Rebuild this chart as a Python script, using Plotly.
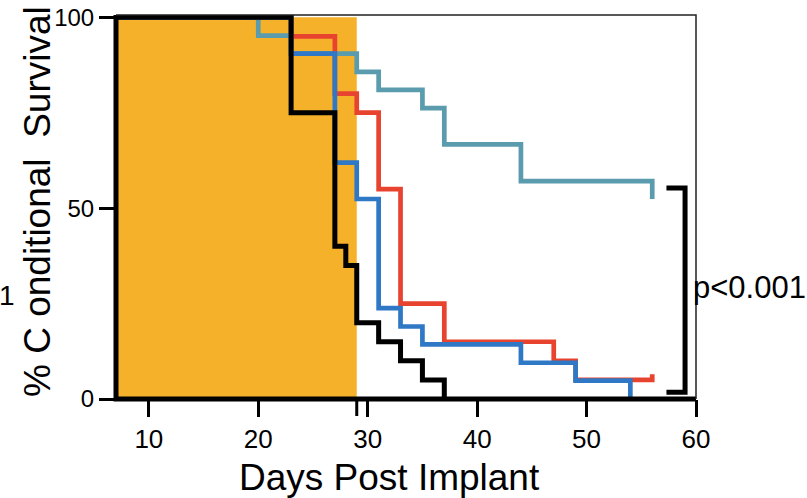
import plotly.graph_objects as go

# ---- data ----
teal_days = [0, 20, 23, 29, 31, 35, 37, 44, 56]
teal_surv = [100, 95.2, 90.5, 85.7, 81.0, 76.2, 66.7, 57.1, 52.4]

red_days = [0, 23, 27, 29, 31, 33, 37, 47, 49, 56, 56]
red_surv = [100, 95, 80, 75, 55, 25, 15, 10, 5, 5, 6.5]

blue_days = [0, 23, 27, 29, 31, 33, 35, 44, 49, 54]
blue_surv = [100, 90.5, 61.9, 52.4, 23.8, 19.0, 14.3, 9.5, 4.8, 0]

black_days = [0, 23, 27, 28, 29, 31, 33, 35, 37]
black_surv = [100, 75, 40, 35, 20, 15, 10, 5, 0]

x_ticks = [10, 20, 30, 40, 50, 60]
y_ticks = [0, 50, 100]

treatment_window = [7, 29]      # shaded period (days)
bracket_x = [57.3, 59.0]
bracket_y = [1.8, 55.3]
p_text = "p<0.001"

FONT = "Liberation Sans, Arial, Helvetica, sans-serif"
TEAL, RED, BLUE, BLACK, ORANGE = "#5A9CAD", "#E8432F", "#2F78C5", "#000000", "#F5B12A"

fig = go.Figure()
for d, s, c, w in [(teal_days, teal_surv, TEAL, 4.7),
                   (red_days, red_surv, RED, 4.7),
                   (blue_days, blue_surv, BLUE, 4.7),
                   (black_days, black_surv, BLACK, 5)]:
    fig.add_trace(go.Scatter(x=d, y=s, mode="lines",
                             line=dict(shape="hv", color=c, width=w),
                             showlegend=False, hoverinfo="skip"))

# shaded treatment window
fig.add_shape(type="rect", xref="x", yref="y",
              x0=treatment_window[0], x1=treatment_window[1], y0=0, y1=100,
              fillcolor=ORANGE, line=dict(width=0), layer="below")
# tick at end of window
fig.add_shape(type="line", xref="x", yref="paper",
              x0=treatment_window[1], x1=treatment_window[1], y0=0, y1=-17/384,
              line=dict(color=BLACK, width=3), layer="above")
# axis lines (thick) and frame (thin)
fig.add_shape(type="path", xref="paper", yref="paper",
              path="M 0,1 L 0,0 L 1,0", line=dict(color=BLACK, width=5), layer="above")
fig.add_shape(type="path", xref="paper", yref="paper",
              path="M 0,1 L 1,1 L 1,0", line=dict(color="#222222", width=1.5), layer="above")
# bracket
fig.add_shape(type="path", xref="x", yref="y",
              path=f"M {bracket_x[0]},{bracket_y[1]} L {bracket_x[1]},{bracket_y[1]} "
                   f"L {bracket_x[1]},{bracket_y[0]} L {bracket_x[0]},{bracket_y[0]}",
              line=dict(color=BLACK, width=5), layer="above")

fig.update_layout(
    template="none",
    width=807, height=498,
    margin=dict(l=116, r=111, t=15, b=99, autoexpand=False),
    paper_bgcolor="white", plot_bgcolor="white",
    font=dict(family=FONT, color="black"),
    xaxis=dict(range=[7, 60], tickvals=x_ticks, ticks="outside", ticklen=17,
               tickwidth=3, tickcolor=BLACK, showgrid=False, zeroline=False,
               showline=False, automargin=False, tickfont=dict(size=26, family=FONT)),
    yaxis=dict(range=[0, 100.6], tickvals=y_ticks, ticks="outside", ticklen=16,
               tickwidth=3, tickcolor=BLACK, showgrid=False, zeroline=False,
               showline=False, automargin=False, tickfont=dict(size=24, family=FONT)),
)

fig.add_annotation(text="%\u00a0C\u00a0onditional\u00a0\u00a0Survival", textangle=-90,
                   xref="paper", yref="paper", x=0, y=0.513, xshift=-79,
                   xanchor="center", yanchor="middle", showarrow=False,
                   font=dict(size=37, family=FONT))
fig.add_annotation(text="Days Post Implant", xref="paper", yref="paper",
                   x=0.472, y=0, yshift=-78, xanchor="center", yanchor="middle",
                   showarrow=False, font=dict(size=37, family=FONT))
fig.add_annotation(text=p_text, xref="paper", yref="paper",
                   x=1, y=(399 - 287) / 384, xshift=691 - 696, xanchor="left",
                   yanchor="middle", showarrow=False, font=dict(size=31, family=FONT))
fig.add_annotation(text="1", xref="paper", yref="paper",
                   x=0, y=(399 - 295) / 384, xshift=-119, xanchor="left",
                   yanchor="middle", showarrow=False, font=dict(size=28, family=FONT))

fig.write_html("out.html", config={"displayModeBar": False},
               post_script="document.body.style.margin='0px';")
